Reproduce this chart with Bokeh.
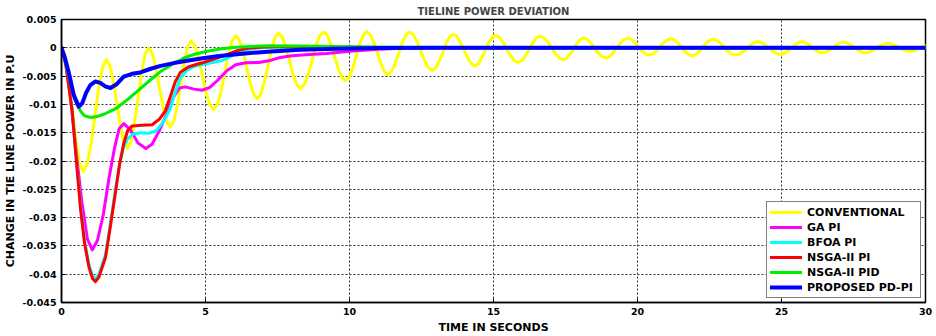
import numpy as np
from bokeh.plotting import figure
from bokeh.models import (Range1d, FixedTicker, CustomJSTickFormatter, Legend, LegendItem)
from bokeh.embed import file_html
from bokeh.resources import INLINE

# ---------------- data (in 1e-3 p.u.) ----------------
UNIT = 1e-3

conv_t = [0, 0.13, 0.25, 0.38, 0.51, 0.63, 0.76,
          0.89, 1.03, 1.16, 1.29, 1.43, 1.56,
          1.68, 1.80, 1.93, 2.05, 2.17, 2.29,
          2.41, 2.53, 2.66, 2.78, 2.90, 3.02,
          3.15, 3.27, 3.40, 3.53, 3.65, 3.78,
          3.90, 4.02, 4.14, 4.26, 4.38, 4.50,
          4.63, 4.76, 4.89, 5.02, 5.15, 5.28,
          5.41, 5.54, 5.67, 5.79, 5.92, 6.05,
          6.18, 6.30, 6.43, 6.55, 6.68, 6.80,
          6.92, 7.04, 7.17, 7.29, 7.41, 7.53,
          7.66, 7.79, 7.92, 8.04, 8.17, 8.30,
          8.43, 8.57, 8.70, 8.83, 8.97, 9.10,
          9.23, 9.35, 9.48, 9.61, 9.73, 9.86,
          9.98, 10.11, 10.23, 10.35, 10.48, 10.60,
          10.72, 10.84, 10.97, 11.09, 11.21, 11.33,
          11.46, 11.58, 11.71, 11.83, 11.96, 12.08,
          12.21, 12.34, 12.48, 12.61, 12.74, 12.87,
          12.99, 13.11, 13.24, 13.36, 13.48, 13.60,
          13.73, 13.85, 13.98, 14.10, 14.23, 14.35,
          14.47, 14.59, 14.71, 14.83, 14.95, 15.07,
          15.20, 15.33, 15.46, 15.59, 15.72, 15.85,
          15.98, 16.11, 16.24, 16.36, 16.49, 16.62,
          16.75, 16.89, 17.02, 17.15, 17.29, 17.42,
          17.54, 17.66, 17.78, 17.89, 18.01, 18.13,
          18.26, 18.39, 18.52, 18.64, 18.77, 18.90,
          19.03, 19.15, 19.28, 19.40, 19.53, 19.65,
          19.78, 19.90, 20.03, 20.15, 20.28, 20.40,
          20.53, 20.65, 20.78, 20.90, 21.03, 21.15,
          21.28, 21.40, 21.53, 21.65, 21.78, 21.90,
          22.02, 22.14, 22.26, 22.38, 22.50, 22.62,
          22.75, 22.88, 23.01, 23.14, 23.27, 23.40,
          23.53, 23.66, 23.79, 23.92, 24.05, 24.18,
          24.31, 24.44, 24.58, 24.71, 24.84, 24.97,
          25.09, 25.21, 25.34, 25.46, 25.58, 25.70,
          25.82, 25.94, 26.06, 26.18, 26.30, 26.42,
          26.54, 26.66, 26.79, 26.91, 27.03, 27.15,
          27.28, 27.40, 27.53, 27.65, 27.78, 27.90,
          28.03, 28.16, 28.29, 28.42, 28.55, 28.68,
          28.81, 28.94, 29.07, 29.19, 29.32, 29.45,
          29.58, 29.70, 29.83, 29.95, 30.0]
conv_v = [0, -1.47, -5.48, -10.95, -16.43, -20.43, -21.9,
          -20.57, -16.95, -12.0, -7.05, -3.43, -2.1,
          -3.15, -6.03, -9.95, -13.88, -16.75, -17.8,
          -16.61, -13.35, -8.9, -4.45, -1.19, 0.0,
          -0.94, -3.5, -7.0, -10.5, -13.06, -14.0,
          -12.98, -10.2, -6.4, -2.6, 0.18, 1.2,
          0.39, -1.83, -4.85, -7.88, -10.09, -10.9,
          -10.03, -7.65, -4.4, -1.15, 1.23, 2.1,
          1.36, -0.68, -3.45, -6.23, -8.26, -9.0,
          -8.22, -6.1, -3.2, -0.3, 1.82, 2.6,
          1.94, 0.15, -2.3, -4.75, -6.54, -7.2,
          -6.53, -4.7, -2.2, 0.3, 2.13, 2.8,
          2.22, 0.65, -1.5, -3.65, -5.22, -5.8,
          -5.22, -3.64, -1.47, 0.69, 2.27, 2.85,
          2.34, 0.96, -0.93, -2.81, -4.19, -4.7,
          -4.2, -2.82, -0.95, 0.93, 2.3, 2.8,
          2.34, 1.1, -0.6, -2.3, -3.54, -4.0,
          -3.57, -2.4, -0.8, 0.8, 1.97, 2.4,
          2.02, 1.0, -0.4, -1.8, -2.82, -3.2,
          -2.84, -1.85, -0.5, 0.85, 1.84, 2.2,
          1.88, 1.0, -0.2, -1.4, -2.28, -2.6,
          -2.29, -1.44, -0.27, 0.89, 1.74, 2.05,
          1.77, 1.01, -0.03, -1.06, -1.82, -2.1,
          -1.85, -1.15, -0.2, 0.75, 1.45, 1.7,
          1.47, 0.82, -0.05, -0.93, -1.57, -1.8,
          -1.57, -0.92, -0.05, 0.83, 1.47, 1.7,
          1.5, 0.95, 0.2, -0.55, -1.1, -1.3,
          -1.11, -0.57, 0.15, 0.88, 1.41, 1.6,
          1.4, 0.85, 0.1, -0.65, -1.2, -1.4,
          -1.21, -0.67, 0.05, 0.78, 1.31, 1.5,
          1.31, 0.8, 0.1, -0.6, -1.11, -1.3,
          -1.14, -0.7, -0.1, 0.5, 0.94, 1.1,
          0.95, 0.52, -0.05, -0.63, -1.05, -1.2,
          -1.05, -0.62, -0.05, 0.53, 0.95, 1.1,
          0.97, 0.6, 0.1, -0.4, -0.77, -0.9,
          -0.77, -0.42, 0.05, 0.53, 0.87, 1.0,
          0.87, 0.53, 0.05, -0.43, -0.77, -0.9,
          -0.79, -0.47, -0.05, 0.38, 0.69, 0.8,
          0.71, 0.45, 0.1, -0.25, -0.51, -0.6,
          -0.51, -0.28, 0.05, 0.35, 0.42]

ga_t = [0, 0.15, 0.3, 0.5, 0.7, 0.9, 1.07, 1.25, 1.45, 1.65, 1.85, 2.0, 2.16, 2.4, 2.65,
        2.93, 3.15, 3.4, 3.67, 3.9, 4.1, 4.3, 4.6, 4.88, 5.15, 5.45, 5.75, 6.05, 6.4,
        6.85, 7.2, 7.6, 8.0, 8.6, 9.2, 10, 11, 12, 14, 30]
ga_v = [0, -2.5, -8, -18, -27, -33.8, -35.7, -34, -29.5, -23, -17.5, -14.3, -13.4, -14.5, -16.8,
        -17.8, -17, -14.6, -11.5, -8.6, -7.1, -6.9, -7.3, -7.5, -7.0, -5.6, -4.0, -3.0, -2.65,
        -2.6, -2.3, -1.7, -1.4, -1.2, -1.0, -0.6, -0.25, -0.05, 0, 0]

bfoa_t = [0, 0.15, 0.37, 0.5, 0.66, 0.8, 0.95, 1.08, 1.18, 1.3, 1.53, 1.7, 1.875, 2.02, 2.16,
          2.3, 2.5, 2.75, 3.05, 3.3, 3.55, 3.78, 3.95, 4.13, 4.35, 4.6, 4.94, 5.25, 5.55, 5.85,
          6.1, 6.45, 6.8, 7.5, 9, 11, 13, 30]
bfoa_v = [0, -3, -11, -18.8, -28, -34, -38.2, -40.3, -40.8, -40, -36.5, -31, -25, -20.5, -17.5,
          -16, -15.2, -15, -15.1, -14.6, -13.0, -10.7, -7.8, -5.3, -4.0, -3.3, -2.9, -2.6, -2.3, -1.6,
          -0.9, -0.35, -0.05, 0.15, 0.1, 0.05, 0, 0]

nsga_pi_t = [0, 0.15, 0.37, 0.5, 0.66, 0.8, 0.95, 1.08, 1.18, 1.3, 1.53, 1.7, 1.875, 2.02,
             2.16, 2.3, 2.45, 2.8, 3.15, 3.4, 3.6, 3.78, 3.95, 4.13, 4.4, 4.7, 4.93, 5.3, 5.7,
             6.1, 6.5, 7.0, 8, 9, 10, 12, 30]
nsga_pi_v = [0, -3, -11.2, -19, -28.4, -34.5, -38.7, -40.8, -41.3, -40.5, -37, -31.5, -25.5, -20.5,
             -16.9, -14.6, -13.8, -13.7, -13.6, -12.6, -11.2, -8.6, -6.0, -4.3, -3.4, -2.9, -2.6, -2.0, -1.3,
             -0.5, -0.05, 0.15, 0.25, 0.2, 0.1, 0, 0]

nsga_pid_t = [0, 0.15, 0.3, 0.49, 0.66, 0.8, 1.0, 1.2, 1.5, 1.93, 2.3, 2.74, 3.1, 3.44, 3.85,
              4.25, 4.65, 5.06, 5.5, 5.98, 6.5, 7.14, 8.3, 10, 12, 15, 30]
nsga_pid_v = [0, -2.8, -6, -9.5, -11.2, -12, -12.3, -12.2, -11.7, -10.6, -9.1, -7.2, -5.6, -4.2, -2.9,
              -1.8, -1.1, -0.6, -0.2, 0.05, 0.25, 0.35, 0.3, 0.2, 0.1, 0.02, 0]

prop_t = [0, 0.12, 0.25, 0.43, 0.6, 0.72, 0.85, 1.0, 1.18, 1.35, 1.52, 1.7, 1.9, 2.16, 2.45,
          2.74, 3.1, 3.44, 3.9, 4.36, 4.9, 5.4, 6.0, 6.56, 7.4, 8.3, 9.5, 11, 13, 30]
prop_v = [0, -1.8, -4.3, -8.4, -10.4, -9.8, -8.0, -6.6, -5.95, -6.2, -6.8, -7.1, -6.5, -5.1, -4.6,
          -4.35, -3.7, -3.2, -2.7, -2.3, -1.85, -1.5, -1.2, -0.9, -0.6, -0.35, -0.15, -0.05, 0, 0]

series_names = ["CONVENTIONAL", "GA PI", "BFOA PI", "NSGA-II PI", "NSGA-II PID", "PROPOSED PD-PI"]
series_t = [conv_t, ga_t, bfoa_t, nsga_pi_t, nsga_pid_t, prop_t]
series_v = [conv_v, ga_v, bfoa_v, nsga_pi_v, nsga_pid_v, prop_v]
series_colors = ["#ffff00", "#ff00ff", "#00ffff", "#ff0000", "#00ee00", "#0000ff"]
series_widths = [3, 3, 3, 3, 3, 4]

x_ticks = [0, 5, 10, 15, 20, 25, 30]
y_ticks = [0.005, 0.0, -0.005, -0.01, -0.015, -0.02, -0.025, -0.03, -0.035, -0.04, -0.045]

FONT = "DejaVu Sans"

# ---------------- figure ----------------
p = figure(width=936, height=336, output_backend="svg", toolbar_location=None,
           x_range=Range1d(0, 30), y_range=Range1d(-0.045, 0.005),
           min_border_left=61, min_border_right=11, min_border_top=16, min_border_bottom=29)

p.title.text = "TIELINE POWER DEVIATION"
p.title.align = "center"
p.title.text_font = FONT
p.title.text_font_size = "10px"
p.title.text_font_style = "bold"
p.title.standoff = 6

p.outline_line_color = "black"
p.outline_line_width = 1.5
p.background_fill_color = "white"
p.border_fill_color = "white"

for ax in (p.xaxis[0], p.yaxis[0]):
    ax.major_tick_in = 4
    ax.major_tick_out = 0
    ax.minor_tick_in = 0
    ax.minor_tick_out = 0
    ax.axis_line_width = 1.5
    ax.axis_line_color = "black"
    ax.major_tick_line_color = "black"
    ax.major_label_text_font = FONT
    ax.major_label_text_font_style = "bold"
    ax.major_label_text_font_size = "9.5px"
    ax.major_label_text_color = "black"
    ax.axis_label_text_font = FONT
    ax.axis_label_text_font_style = "bold"
    ax.axis_label_text_font_size = "11px"
    ax.axis_label_text_color = "black"
    ax.major_label_standoff = 5

p.xaxis[0].ticker = FixedTicker(ticks=x_ticks)
p.yaxis[0].ticker = FixedTicker(ticks=y_ticks)
p.xaxis[0].axis_label = "TIME IN SECONDS"
p.yaxis[0].axis_label = "CHANGE IN TIE LINE POWER IN P.U"
p.xaxis[0].axis_label_standoff = 3
p.yaxis[0].axis_label_standoff = 3
p.yaxis[0].formatter = CustomJSTickFormatter(code="""
    if (Math.abs(tick) < 1e-12) { return "0"; }
    var s = tick.toFixed(3);
    s = s.replace(/0+$/, "");
    if (s.charAt(s.length - 1) == ".") { s = s.slice(0, -1); }
    return s;
""")

for g, tk in ((p.xgrid[0], x_ticks), (p.ygrid[0], y_ticks)):
    g.ticker = FixedTicker(ticks=tk)
    g.grid_line_color = "#222222"
    g.grid_line_dash = "2 2"
    g.grid_line_width = 1
    g.grid_line_alpha = 0.9

items = []
for name, t, v, c, w in zip(series_names, series_t, series_v, series_colors, series_widths):
    r = p.line(np.array(t), np.array(v) * UNIT, line_color=c, line_width=w,
               line_join="round", line_cap="round")
    items.append(LegendItem(label=name, renderers=[r]))

legend = Legend(items=items, location="bottom_right")
legend.label_text_font = FONT
legend.label_text_font_style = "bold"
legend.label_text_font_size = "11px"
legend.label_text_color = "black"
legend.border_line_color = "black"
legend.border_line_width = 1
legend.background_fill_alpha = 1
legend.padding = 3
legend.spacing = 1
legend.glyph_width = 32
legend.glyph_height = 14
legend.label_height = 14
legend.label_standoff = 5
legend.label_width = 110
legend.margin = 4
p.add_layout(legend)

open("out.html", "w").write(file_html(p, INLINE))
